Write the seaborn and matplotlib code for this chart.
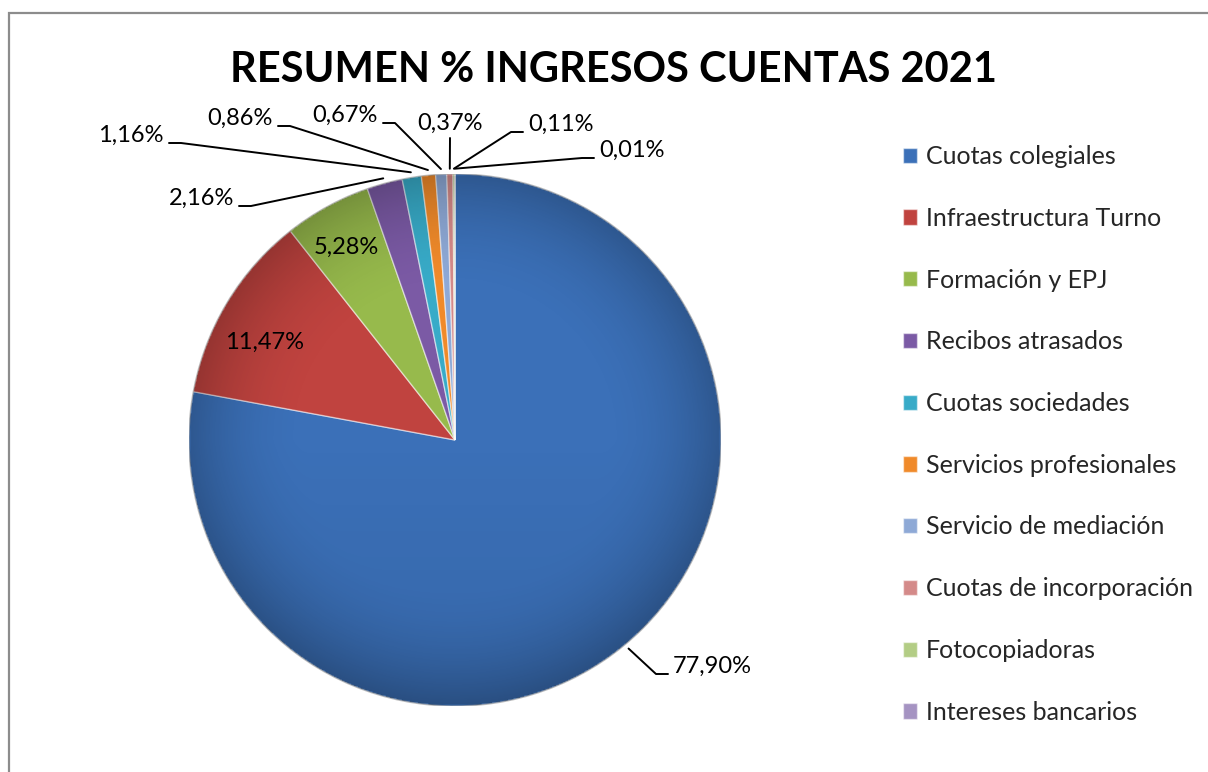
import numpy as np
import matplotlib
matplotlib.use("Agg")
import matplotlib.pyplot as plt
from matplotlib.patches import Rectangle, Circle
import seaborn as sns

# Data
categories = ["Cuotas colegiales", "Infraestructura Turno", "Formación y EPJ",
              "Recibos atrasados", "Cuotas sociedades", "Servicios profesionales",
              "Servicio de mediación", "Cuotas de incorporación", "Fotocopiadoras",
              "Intereses bancarios"]
percentages = [77.90, 11.47, 5.28, 2.16, 1.16, 0.86, 0.67, 0.37, 0.11, 0.01]
pct_labels = ["77,90%", "11,47%", "5,28%", "2,16%", "1,16%", "0,86%",
              "0,67%", "0,37%", "0,11%", "0,01%"]
colors = ["#3b70b8", "#c0433f", "#97ba4c", "#7b5aa5", "#38abc8", "#f08a2a",
          "#8ea9d6", "#d48a89", "#b3cd85", "#a593c2"]

sns.set_theme(style="white")
plt.rcParams["font.family"] = ["Lato", "DejaVu Sans"]

W, H = 1208, 772
fig = plt.figure(figsize=(W / 100, H / 100), dpi=100)
fig.patch.set_facecolor("white")

# outer chart frame (only top and left edge visible in the crop)
fig.add_artist(Rectangle((9 / W, -0.1), 1.2, 1.1 - 13 / H, transform=fig.transFigure,
                         fill=False, edgecolor="#8c8c8c", linewidth=1.6))

# pie placement
cx, cy, r = 455, 440, 266
ax = fig.add_axes([(cx - r) / W, (H - cy - r) / H, 2 * r / W, 2 * r / H])
palette = sns.color_palette(colors)
wedges, _ = ax.pie(percentages, colors=palette, startangle=90, counterclock=False,
                   radius=1.0,
                   wedgeprops=dict(edgecolor=(1, 1, 1, 0.5), linewidth=1.0))

# soft shading towards the rim (bevel look)
g = np.linspace(-1, 1, 400)
gx, gy = np.meshgrid(g, g)
rr = np.sqrt(gx ** 2 + gy ** 2)
shade = np.zeros((400, 400, 4))
alpha = np.clip((rr - 0.55) / 0.45, 0, 1) ** 2 * 0.22 + np.clip(-gy, 0, 1) * 0.08
shade[..., 3] = np.where(rr <= 1, alpha, 0)
img = ax.imshow(shade, extent=(-1, 1, -1, 1), origin="lower", zorder=3)
img.set_clip_path(Circle((0, 0), 1.0, transform=ax.transData))
ax.add_patch(Circle((0, 0), 1.0, fill=False, edgecolor=(0, 0, 0, 0.25), linewidth=1.2, zorder=4))

ax.set_xlim(-1, 1)
ax.set_ylim(-1, 1)
ax.set_aspect("equal")
ax.axis("off")


def px(x, y):
    return (x - cx) / r, (cy - y) / r


# label layout (pixel positions of the text, ha)
label_layout = [
    (673, 666, "left"),
    (265, 342, "center"),
    (346, 247, "center"),
    (234, 198, "right"),
    (164, 135, "right"),
    (273, 118, "right"),
    (378, 115, "right"),
    (450, 123, "center"),
    (528, 124, "left"),
    (599, 150, "left"),
]

total = sum(percentages)
cum = 0.0
for val, lab, (tx, ty, ha) in zip(percentages, pct_labels, label_layout):
    mid = 90 - (cum + val / 2) / total * 360
    cum += val
    x, y = px(tx, ty)
    ax.text(x, y, lab, ha=ha, va="center", fontsize=17, color="black",
            clip_on=False, zorder=5)
    if lab in ("11,47%", "5,28%"):
        continue
    a = np.deg2rad(mid)
    axx, ayy = 1.02 * np.cos(a), 1.02 * np.sin(a)
    if ha == "center":
        x0, y0 = px(tx, ty + 15)
        xs, ys = [x0, axx], [y0, ayy]
    else:
        sgn = 1 if ha == "right" else -1
        x0, y0 = px(tx + sgn * 5, ty + 8)
        x1, y1 = px(tx + sgn * 17, ty + 8)
        xs, ys = [x0, x1, axx], [y0, y1, ayy]
    ax.plot(xs, ys, color="black", linewidth=1.4, clip_on=False)

fig.text(614 / W, 1 - 70 / H, "RESUMEN % INGRESOS CUENTAS 2021", ha="center",
         va="center", fontsize=30, fontweight="bold", color="black")

fig.legend(wedges, categories, loc="upper left", bbox_to_anchor=(903 / W, 1 - 145 / H),
           frameon=False, fontsize=18, handlelength=0.56, handleheight=0.56,
           handletextpad=0.36, labelspacing=1.55, borderaxespad=0, borderpad=0)

fig.savefig("out.png", dpi=100, facecolor="white")
